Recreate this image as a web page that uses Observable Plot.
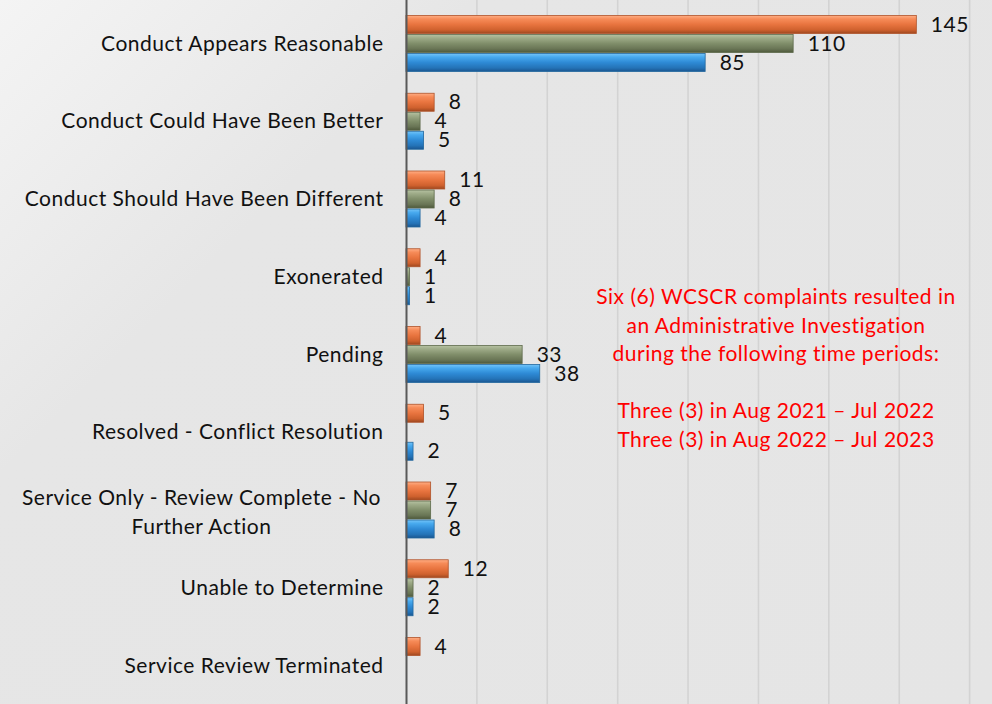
<!DOCTYPE html>
<html><head><meta charset="utf-8">
<script src="https://cdn.jsdelivr.net/npm/d3@7"></script>
<script src="https://cdn.jsdelivr.net/npm/@observablehq/plot@0.6"></script>
<style>
html,body{margin:0;padding:0;}
body{width:992px;height:704px;overflow:hidden;background:#E6E6E6;}
#wrap{position:relative;width:992px;height:704px;background:linear-gradient(135deg,#F4F4F4 0%,#E6E6E6 28%,#E5E5E5 100%);font-family:Lato,"Open Sans",sans-serif;}
#chart{position:absolute;left:0;top:0;}
#chart svg text{letter-spacing:0.5px;}
#note{position:absolute;left:576px;width:400px;top:282px;text-align:center;color:#FF0000;font-size:21px;letter-spacing:0.5px;line-height:28.6px;z-index:2;}
</style></head>
<body>
<svg width="0" height="0" style="position:absolute">
  <defs>
    <linearGradient id="gOrange" x1="0" y1="0" x2="0" y2="1">
      <stop offset="0%" stop-color="#FFAE85"/>
      <stop offset="20%" stop-color="#F68B58"/>
      <stop offset="50%" stop-color="#E8743F"/>
      <stop offset="80%" stop-color="#CF612E"/>
      <stop offset="100%" stop-color="#9E4820"/>
    </linearGradient>
    <linearGradient id="gGreen" x1="0" y1="0" x2="0" y2="1">
      <stop offset="0%" stop-color="#B6C2A2"/>
      <stop offset="20%" stop-color="#9EAB88"/>
      <stop offset="50%" stop-color="#808E6A"/>
      <stop offset="80%" stop-color="#697555"/>
      <stop offset="100%" stop-color="#4E593B"/>
    </linearGradient>
    <linearGradient id="gBlue" x1="0" y1="0" x2="0" y2="1">
      <stop offset="0%" stop-color="#74C4F8"/>
      <stop offset="20%" stop-color="#47A9EE"/>
      <stop offset="50%" stop-color="#2E8AD5"/>
      <stop offset="80%" stop-color="#2473B7"/>
      <stop offset="100%" stop-color="#1A5690"/>
    </linearGradient>
  </defs>
</svg>
<div id="wrap">
  <div id="chart"></div>
  <div id="note">Six (6) WCSCR complaints resulted in<br>an Administrative Investigation<br>during the following time periods:<br><br>Three (3) in Aug 2021 – Jul 2022<br>Three (3) in Aug 2022 – Jul 2023</div>
</div>
<script>
const categories = [
  "Conduct Appears Reasonable",
  "Conduct Could Have Been Better",
  "Conduct Should Have Been Different",
  "Exonerated",
  "Pending",
  "Resolved - Conflict Resolution",
  "Service Only - Review Complete - No\nFurther Action",
  "Unable to Determine",
  "Service Review Terminated"
];
const seriesNames = ["Series A", "Series B", "Series C"];
const seriesA = [145, 8, 11, 4, 4, 5, 7, 12, 4];      // orange
const seriesB = [110, 4, 8, 1, 33, null, 7, 2, null]; // green
const seriesC = [85, 5, 4, 1, 38, 2, 8, 2, null];     // blue
const gridTicks = [20, 40, 60, 80, 100, 120, 140, 160];

const fills = ["url(#gOrange)", "url(#gGreen)", "url(#gBlue)"];
const strokes = ["#B0532A", "#5E6A4B", "#22689F"];
const allSeries = [seriesA, seriesB, seriesC];

const rows = allSeries.map((vals, si) =>
  categories.map((c, i) => ({category: c, value: vals[i], series: seriesNames[si]})).filter(d => d.value != null)
);

const slot = 19;
const marks = [
  Plot.gridX(gridTicks, {stroke: "#D3D3D3", strokeWidth: 1.6, strokeOpacity: 1})
];
rows.forEach((data, si) => {
  marks.push(Plot.barX(data, {
    x: "value", y: "category",
    fill: fills[si], stroke: strokes[si], strokeWidth: 0.8,
    insetTop: si * slot + 0.5,
    insetBottom: (2 - si) * slot + 0.5
  }));
  marks.push(Plot.text(data, {
    x: "value", y: "category", text: d => String(d.value),
    dy: (si - 1) * slot, dx: 14, textAnchor: "start",
    fill: "#111", fontSize: 21
  }));
});
// category labels
const singleCats = categories.filter(c => !c.includes("\n"));
const multiCats = categories.filter(c => c.includes("\n"));
marks.push(Plot.text(singleCats, {
  y: d => d, text: d => d, frameAnchor: "left", dx: -23, textAnchor: "end",
  fill: "#111", fontSize: 21
}));
marks.push(Plot.text(multiCats, {
  y: d => d, text: d => d, frameAnchor: "left", dx: -205, textAnchor: "middle",
  fill: "#111", fontSize: 21, lineHeight: 1.38
}));
marks.push(Plot.ruleX([0], {stroke: "#595959", strokeWidth: 2}));

const chart = Plot.plot({
  width: 992, height: 704,
  marginLeft: 406, marginRight: 0, marginTop: 0, marginBottom: 0,
  style: {background: "transparent", fontFamily: "Lato, 'Open Sans', sans-serif", fontSize: "21px", overflow: "visible"},
  x: {domain: [0, 166.5], axis: null},
  y: {domain: categories, range: [15, 694], paddingInner: 0.267, paddingOuter: 0, round: false, axis: null},
  marks
});
document.getElementById("chart").appendChild(chart);
</script>
</body></html>
